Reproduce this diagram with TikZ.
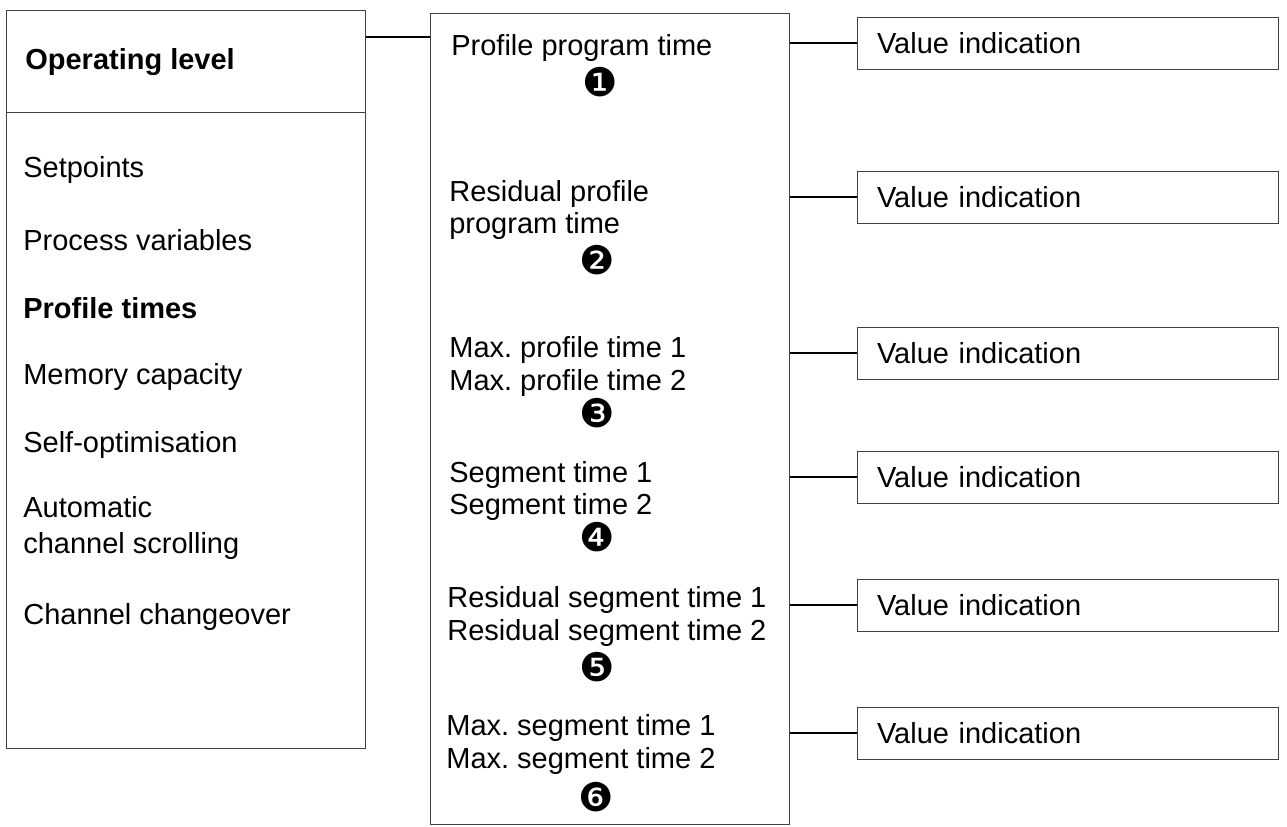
\documentclass[tikz,border=0pt]{standalone}
\usepackage{fontspec}
\setmainfont{Liberation Sans}
\newfontfamily\dingfont{DejaVu Sans}
\usetikzlibrary{positioning}
\frenchspacing

\begin{document}
\begin{tikzpicture}[
    x=0.02cm, y=-0.02cm,
    frame/.style={draw=black!75, line width=0.55pt, inner sep=0pt},
    item/.style={anchor=west, inner sep=0pt, align=left, font=\fontsize{16.5}{18.7}\selectfont},
    head/.style={item, font=\fontsize{16.5}{18.7}\selectfont\bfseries},
    valbox/.style={frame, minimum width=8.44cm, minimum height=1.04cm, text width=7.64cm, inner xsep=0.4cm, align=left, font=\fontsize{16.5}{18.7}\selectfont},
    marker/.style={inner sep=0pt, font=\dingfont\fontsize{22.5}{22.5}\selectfont},
    link/.style={line width=0.9pt},
]
    \useasboundingbox (0,0) rectangle (1287,827);

    % Left column: menu of the operating level
    \node[frame, minimum width=7.2cm, minimum height=14.78cm] (levels) at (186, 379.5) {};
    \node[frame, minimum width=7.2cm, minimum height=2.04cm] (header) at (186, 61) {};
    \node[head] (oplevel) at (25, 62) {Operating level};
    \node[item] (setpoints) at (23, 170) {Setpoints};
    \node[item] (procvars) at (23, 240) {Process variables};
    \node[head] (proftimes) at (23, 308) {Profile times};
    \node[item] (memory) at (23, 377) {Memory capacity};
    \node[item] (selfopt) at (23, 445) {Self-optimisation};
    \node[item, font=\fontsize{16.5}{21}\selectfont] (scrolling) at (23, 528) {Automatic\\channel scrolling};
    \node[item] (changeover) at (23, 617) {Channel changeover};

    % Middle column: profile times
    \node[frame, minimum width=7.2cm, minimum height=16.24cm] (times) at (610, 419) {};
    \node[item] (progtime) at (451, 48) {Profile program time};
    \node[item] (resprog) at (449, 210) {Residual profile\\program time};
    \node[item] (maxprof) at (449, 366.5) {Max. profile time 1\\Max. profile time 2};
    \node[item] (segtime) at (449, 491) {Segment time 1\\Segment time 2};
    \node[item] (resseg) at (447, 616.5) {Residual segment time 1\\Residual segment time 2};
    \node[item] (maxseg) at (446, 744.5) {Max. segment time 1\\Max. segment time 2};

    \node[marker] (m1) at (600, 82) {❶};
    \node[marker] (m2) at (597, 260) {❷};
    \node[marker] (m3) at (597, 413) {❸};
    \node[marker] (m4) at (597, 537) {❹};
    \node[marker] (m5) at (597, 667) {❺};
    \node[marker] (m6) at (596, 797) {❻};

    % Right column: value indications
    \node[valbox] (val1) at (1068, 43) {Value indication};
    \node[valbox] (val2) at (1068, 197) {Value indication};
    \node[valbox] (val3) at (1068, 353) {Value indication};
    \node[valbox] (val4) at (1068, 477) {Value indication};
    \node[valbox] (val5) at (1068, 605) {Value indication};
    \node[valbox] (val6) at (1068, 733) {Value indication};

    % Connectors
    \draw[link] ([yshift=0.48cm]header.east) -- ([yshift=0.48cm]header.east -| times.west);
    \foreach \i in {1,...,6}
        \draw[link] (times.east |- val\i.west) -- (val\i.west);
\end{tikzpicture}
\end{document}
